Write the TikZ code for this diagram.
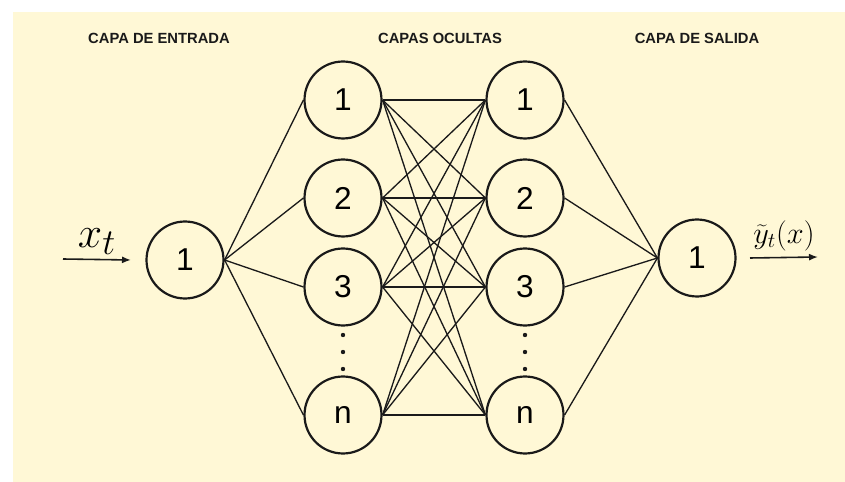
\documentclass[tikz,border=0pt]{standalone}
\usepackage{fontspec}
\setsansfont{Liberation Sans}
\usetikzlibrary{arrows.meta, positioning}
\definecolor{paper}{HTML}{FFF8D6}
\definecolor{ink}{HTML}{1A1A1A}
\tikzset{
  neuron/.style={circle, draw=ink, line width=1.25pt, minimum size=1.54cm, inner sep=0pt,
                 font=\sffamily\fontsize{18}{19}\selectfont},
  ttl/.style={font=\sffamily\bfseries\fontsize{8.4}{10}\selectfont, text=ink},
  conn/.style={draw=ink, line width=0.75pt},
  io/.style={-{Latex[length=1.8mm,width=1.4mm]}, line width=0.9pt, draw=ink},
}

\begin{document}
\begin{tikzpicture}[x=0.02cm, y=-0.02cm]
\useasboundingbox (0,0) rectangle (845,482);
\fill[paper] (13,12) rectangle (845,482);

% layer titles
\node[ttl] at (159,38) {CAPA DE ENTRADA};
\node[ttl] at (440,38) {CAPAS OCULTAS};
\node[ttl] at (697,38) {CAPA DE SALIDA};

% input and output
\node[neuron] (in1) at (185,260) {1};
\node[neuron] (out1) at (697,258) {1};

% the two hidden layers
\foreach \k/\y in {1/100, 2/198, 3/287, n/415} {
  \node[neuron] (a\k) at (343,\y) {\k};
  \node[neuron] (b\k) at (525,\y) {\k};
}
\foreach \x in {343,525}
  \foreach \y in {335,352,369}
    \fill[ink] (\x,\y) circle (2.2);

% connections
\foreach \k in {1,2,3,n} {
  \draw[conn] (in1.east) -- (a\k.west);
  \draw[conn] (b\k.east) -- (out1.west);
  \foreach \j in {1,2,3,n}
    \draw[conn] (a\k.east) -- (b\j.west);
}

% signal in and out
\coordinate (xin) at (63,259);
\coordinate (yout) at (818,257);
\draw[io] (xin) -- (in1.west -| 131,0) node[midway, above=-1pt, font=\fontsize{28}{32}\selectfont] {$x_t$};
\draw[io] (out1.east -| 750,0) -- (yout) node[midway, above=0pt, font=\fontsize{17}{20}\selectfont] {$\widetilde{y}_t(x)$};
\end{tikzpicture}
\end{document}
